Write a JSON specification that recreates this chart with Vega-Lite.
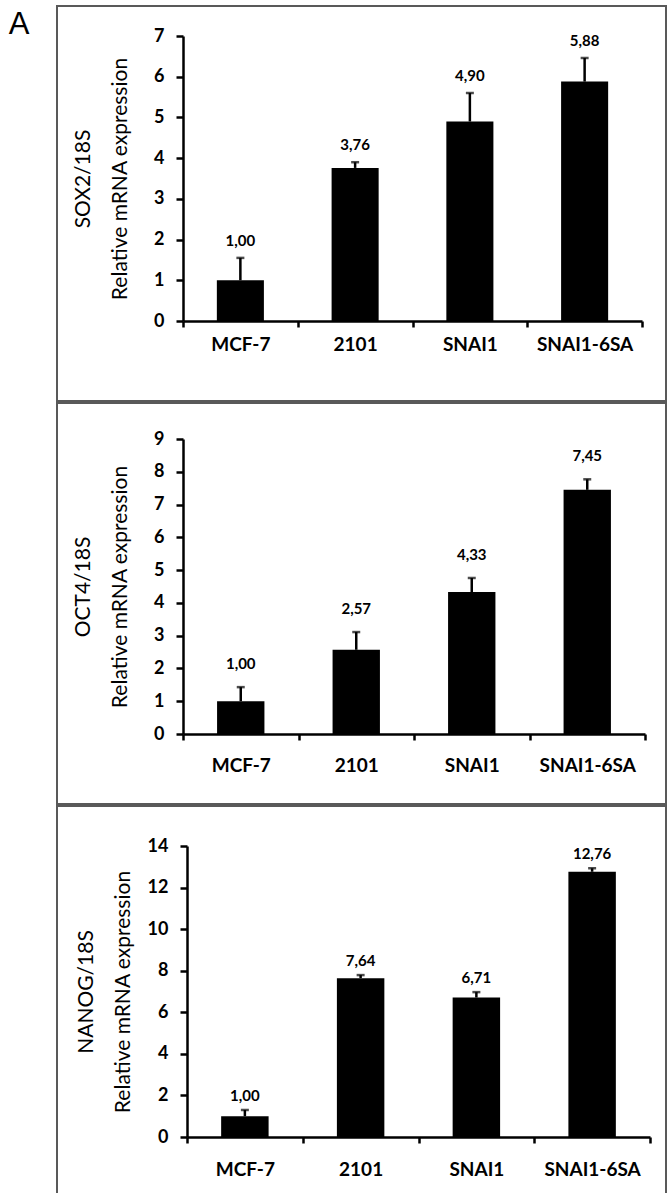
{
  "$schema": "https://vega.github.io/schema/vega-lite/v6.json",
  "background": "white",
  "padding": {"left": 8, "top": 5, "right": 0, "bottom": 0},
  "title": {"text": "A", "orient": "left", "anchor": "end", "angle": 0, "fontSize": 31, "fontWeight": "normal", "font": "Liberation Sans", "color": "black", "align": "right", "baseline": "top", "offset": 6, "dy": 5},
  "spacing": 0,
  "config": {
    "font": "Lato",
    "axis": {"domainColor": "black", "domainWidth": 2.5, "tickColor": "black", "tickWidth": 2.5, "labelColor": "black", "labelFont": "Lato", "labelFontWeight": "bold", "titleColor": "black", "titleFont": "Lato", "titleFontWeight": "normal", "grid": false},
    "axisX": {"labelAngle": 0, "tickBand": "extent", "tickSize": 6, "labelFontSize": 19},
    "axisY": {"tickSize": 7, "labelPadding": 12, "labelFontSize": 18, "titleFontSize": 21, "titleLineHeight": 37, "format": "d"},
    "view": {"stroke": "#595959", "strokeWidth": 2},
    "concat": {"spacing": 0}
  },
  "datasets": {
    "sox2": [
      {"cat": "MCF-7", "value": 1.00, "hi": 1.55, "label": "1,00"},
      {"cat": "2101", "value": 3.76, "hi": 3.90, "label": "3,76"},
      {"cat": "SNAI1", "value": 4.90, "hi": 5.60, "label": "4,90"},
      {"cat": "SNAI1-6SA", "value": 5.88, "hi": 6.46, "label": "5,88"}
    ],
    "oct4": [
      {"cat": "MCF-7", "value": 1.00, "hi": 1.43, "label": "1,00"},
      {"cat": "2101", "value": 2.57, "hi": 3.11, "label": "2,57"},
      {"cat": "SNAI1", "value": 4.33, "hi": 4.76, "label": "4,33"},
      {"cat": "SNAI1-6SA", "value": 7.45, "hi": 7.77, "label": "7,45"}
    ],
    "nanog": [
      {"cat": "MCF-7", "value": 1.00, "hi": 1.30, "label": "1,00"},
      {"cat": "2101", "value": 7.64, "hi": 7.79, "label": "7,64"},
      {"cat": "SNAI1", "value": 6.71, "hi": 6.97, "label": "6,71"},
      {"cat": "SNAI1-6SA", "value": 12.76, "hi": 12.93, "label": "12,76"}
    ]
  },
  "vconcat": [
    {
      "width": 609, "height": 395,
      "data": {"name": "sox2"},
      "encoding": {
        "x": {"field": "cat", "type": "nominal", "sort": null, "title": null,
              "scale": {"range": [126, 585], "paddingInner": 0, "paddingOuter": 0},
              "axis": {"offset": -80, "labelPadding": 8}}
      },
      "layer": [
        {"mark": {"type": "bar", "color": "black", "width": {"band": 0.41}},
         "encoding": {"y": {"field": "value", "type": "quantitative", "title": ["SOX2/18S", "Relative mRNA expression"],
            "scale": {"domain": [0, 7], "range": [315, 30], "nice": false, "zero": true},
            "axis": {"offset": -126, "values": [0, 1, 2, 3, 4, 5, 6, 7], "titlePadding": 23}}}},
        {"mark": {"type": "rule", "color": "black", "strokeWidth": 2.5},
         "encoding": {"y": {"field": "value", "type": "quantitative", "title": ["SOX2/18S", "Relative mRNA expression"]}, "y2": {"field": "hi"}}},
        {"mark": {"type": "tick", "color": "black", "thickness": 2.5, "size": 8},
         "encoding": {"y": {"field": "hi", "type": "quantitative", "title": ["SOX2/18S", "Relative mRNA expression"]}}},
        {"mark": {"type": "text", "dy": -12, "baseline": "alphabetic", "fontWeight": "bold", "fontSize": 15, "font": "Lato", "color": "black"},
         "encoding": {"y": {"field": "hi", "type": "quantitative", "title": ["SOX2/18S", "Relative mRNA expression"]}, "text": {"field": "label"}}}
      ]
    },
    {
      "width": 609, "height": 401,
      "data": {"name": "oct4"},
      "encoding": {
        "x": {"field": "cat", "type": "nominal", "sort": null, "title": null,
              "scale": {"range": [126, 588], "paddingInner": 0, "paddingOuter": 0},
              "axis": {"offset": -70, "labelPadding": 16}}
      },
      "layer": [
        {"mark": {"type": "bar", "color": "black", "width": {"band": 0.41}},
         "encoding": {"y": {"field": "value", "type": "quantitative", "title": ["OCT4/18S", "Relative mRNA expression"],
            "scale": {"domain": [0, 9], "range": [331, 36], "nice": false, "zero": true},
            "axis": {"offset": -126, "values": [0, 1, 2, 3, 4, 5, 6, 7, 8, 9], "titlePadding": 23}}}},
        {"mark": {"type": "rule", "color": "black", "strokeWidth": 2.5},
         "encoding": {"y": {"field": "value", "type": "quantitative", "title": ["OCT4/18S", "Relative mRNA expression"]}, "y2": {"field": "hi"}}},
        {"mark": {"type": "tick", "color": "black", "thickness": 2.5, "size": 8},
         "encoding": {"y": {"field": "hi", "type": "quantitative", "title": ["OCT4/18S", "Relative mRNA expression"]}}},
        {"mark": {"type": "text", "dy": -18, "baseline": "alphabetic", "fontWeight": "bold", "fontSize": 15, "font": "Lato", "color": "black"},
         "encoding": {"y": {"field": "hi", "type": "quantitative", "title": ["OCT4/18S", "Relative mRNA expression"]}, "text": {"field": "label"}}}
      ]
    },
    {
      "width": 609, "height": 391,
      "data": {"name": "nanog"},
      "encoding": {
        "x": {"field": "cat", "type": "nominal", "sort": null, "title": null,
              "scale": {"range": [130, 593], "paddingInner": 0, "paddingOuter": 0},
              "axis": {"offset": -60, "labelPadding": 17}}
      },
      "layer": [
        {"mark": {"type": "bar", "color": "black", "width": {"band": 0.41}},
         "encoding": {"y": {"field": "value", "type": "quantitative", "title": ["NANOG/18S", "Relative mRNA expression"],
            "scale": {"domain": [0, 14], "range": [331, 40], "nice": false, "zero": true},
            "axis": {"offset": -130, "values": [0, 2, 4, 6, 8, 10, 12, 14], "titlePadding": 14}}}},
        {"mark": {"type": "rule", "color": "black", "strokeWidth": 2.5},
         "encoding": {"y": {"field": "value", "type": "quantitative", "title": ["NANOG/18S", "Relative mRNA expression"]}, "y2": {"field": "hi"}}},
        {"mark": {"type": "tick", "color": "black", "thickness": 2.5, "size": 8},
         "encoding": {"y": {"field": "hi", "type": "quantitative", "title": ["NANOG/18S", "Relative mRNA expression"]}}},
        {"mark": {"type": "text", "dy": -9, "baseline": "alphabetic", "fontWeight": "bold", "fontSize": 15, "font": "Lato", "color": "black"},
         "encoding": {"y": {"field": "hi", "type": "quantitative", "title": ["NANOG/18S", "Relative mRNA expression"]}, "text": {"field": "label"}}}
      ]
    }
  ]
}
